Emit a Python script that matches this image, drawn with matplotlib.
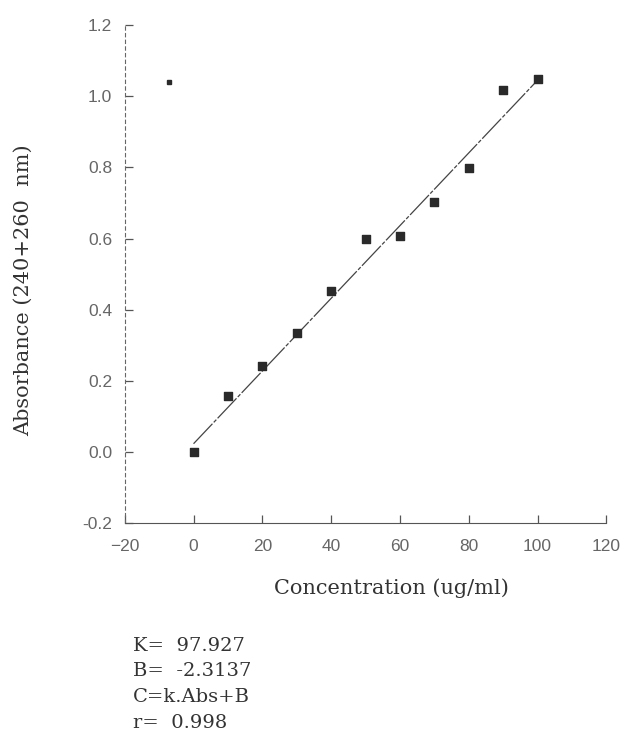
import numpy as np
import matplotlib
matplotlib.use('Agg')
import matplotlib.pyplot as plt

# calibration data
conc = [0, 10, 20, 30, 40, 50, 60, 70, 80, 90, 100]
absorb = [0.0, 0.158, 0.242, 0.335, 0.453, 0.600, 0.608, 0.704, 0.797, 1.018, 1.048]
K = 97.927
B = -2.3137
r = 0.998
fit_x = [0, 100]
xticks = [-20, 0, 20, 40, 60, 80, 100, 120]
yticks = [-0.2, 0.0, 0.2, 0.4, 0.6, 0.8, 1.0, 1.2]

plt.rcParams['font.family'] = ['DejaVu Serif']

fig = plt.figure(figsize=(6.43, 7.35), dpi=100)
ax = fig.add_axes([0.194, 0.288, 0.749, 0.678])

fx = np.array(fit_x, dtype=float)
ax.plot(fx, (fx - B) / K, color='#444444', lw=0.9, ls=(0, (22, 1.5, 3, 1.5)))
ax.scatter(conc, absorb, marker='s', s=28, color='#2a2a2a', zorder=3)
ax.plot([-7], [1.04], marker='s', ms=2.5, color='#2a2a2a')

ax.set_xlim(-20, 120)
ax.set_ylim(-0.2, 1.2)
ax.set_xticks(xticks)
ax.set_yticks(yticks)
ax.set_yticklabels(['%.1f' % v for v in yticks])
ax.spines['top'].set_visible(False)
ax.spines['right'].set_visible(False)
ax.spines['left'].set_linestyle((0, (3, 3)))
ax.spines['left'].set_color('#666666')
ax.spines['bottom'].set_color('#555555')
ax.tick_params(axis='both', direction='in', length=6, width=0.9, colors='#555555',
               labelsize=12.5, labelcolor='#666666')
ax.tick_params(axis='x', pad=11)
ax.tick_params(axis='y', pad=9)
for lab in ax.get_xticklabels() + ax.get_yticklabels():
    lab.set_family('Liberation Sans')

fig.text(0.608, 0.200, 'Concentration (ug/ml)', fontsize=15, color='#333333',
         ha='center', va='center')
fig.text(0.037, 0.605, 'Absorbance (240+260  nm)', fontsize=15, color='#333333',
         ha='center', va='center', rotation=90)

txt = 'K=  %.3f\nB=  %.4f\nC=k.Abs+B\nr=  %.3f' % (K, B, r)
fig.text(0.207, 0.134, txt, fontsize=14, color='#333333', va='top', linespacing=1.55)

fig.savefig('out.png', dpi=100, facecolor='white')
